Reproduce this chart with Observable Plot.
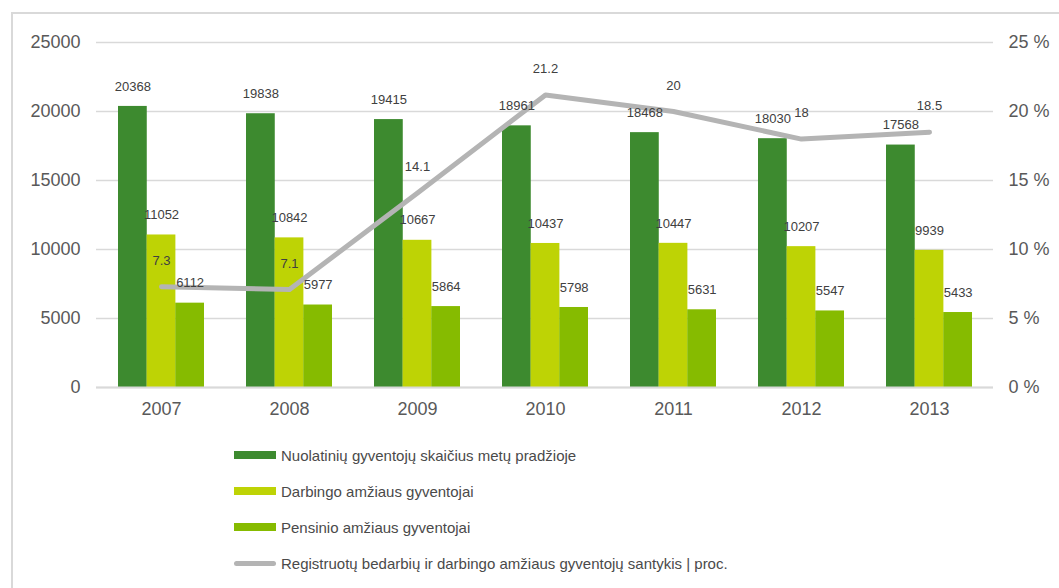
<!DOCTYPE html>
<html><head><meta charset="utf-8">
<script src="https://cdn.jsdelivr.net/npm/d3@7"></script>
<script src="https://cdn.jsdelivr.net/npm/@observablehq/plot@0.6"></script>
<style>
body{margin:0;background:#fff;font-family:"Liberation Sans",Arial,sans-serif;}
#wrap{position:relative;width:1059px;height:588px;overflow:hidden;background:#fff;}
#frame{position:absolute;left:11px;top:12px;width:1200px;height:700px;border-left:2px solid #d9d9d9;border-top:2px solid #d9d9d9;}
#chart{position:absolute;left:0;top:0;}
#legend{position:absolute;left:234px;top:437px;}
.row{display:flex;align-items:center;height:36px;font-size:15px;color:#4a4a4a;white-space:nowrap;}
.sw{width:42px;height:8px;margin-right:5px;flex:none;}
.ln{width:42px;height:5px;border-radius:3px;margin-right:5px;flex:none;}
</style></head><body>
<div id="wrap"><div id="frame"></div><div id="chart"></div><div id="legend"></div></div>
<script>
const years = ["2007","2008","2009","2010","2011","2012","2013"];
const totalPop = [20368,19838,19415,18961,18468,18030,17568];
const workingAge = [11052,10842,10667,10437,10447,10207,9939];
const pensionAge = [6112,5977,5864,5798,5631,5547,5433];
const unemployRatio = [7.3,7.1,14.1,21.2,20,18,18.5];
const leftTicks = [0,5000,10000,15000,20000,25000];
const rightTicks = [0,5,10,15,20,25];
const seriesNames = [
  "Nuolatinių gyventojų skaičius metų pradžioje",
  "Darbingo amžiaus gyventojai",
  "Pensinio amžiaus gyventojai",
  "Registruotų bedarbių ir darbingo amžiaus gyventojų santykis | proc."
];
const colors = ["#3d8a2f","#bed305","#86bb00","#b4b4b4"];

const rows = years.map((y,i)=>({year:y,total:totalPop[i],working:workingAge[i],pension:pensionAge[i],ratio:unemployRatio[i]}));

const W = 1059, ML = 96, MR = 66, PI = 0.33;
const step = (W-ML-MR)/years.length;
const third = step*(1-PI)/3;

const chart = Plot.plot({
  width: W, height: 425,
  marginLeft: ML, marginRight: MR, marginTop: 42, marginBottom: 38,
  style: {fontFamily: '"Liberation Sans", Arial, sans-serif', background: "transparent"},
  x: {type: "band", domain: years, paddingInner: PI, paddingOuter: PI/2, label: null},
  y: {domain: [0, 25000], label: null},
  marks: [
    Plot.gridY(leftTicks, {stroke: "#d9d9d9", strokeOpacity: 1, strokeWidth: 1.5}),
    Plot.barY(rows, {x: "year", y: "total", fill: colors[0], insetLeft: 0, insetRight: 2*third}),
    Plot.barY(rows, {x: "year", y: "working", fill: colors[1], insetLeft: third, insetRight: third}),
    Plot.barY(rows, {x: "year", y: "pension", fill: colors[2], insetLeft: 2*third, insetRight: 0}),
    Plot.ruleY([0], {stroke: "#d9d9d9", strokeWidth: 2}),
    Plot.line(rows, {x: "year", y: d => d.ratio*1000, stroke: colors[3], strokeWidth: 5, strokeLinecap: "round", strokeLinejoin: "round"}),
    Plot.text(rows, {x: "year", y: "total", text: d => String(d.total), dx: -third, dy: -20, fontSize: 13, fill: "#404040"}),
    Plot.text(rows, {x: "year", y: "working", text: d => String(d.working), dx: 0, dy: -20, fontSize: 13, fill: "#404040"}),
    Plot.text(rows, {x: "year", y: "pension", text: d => String(d.pension), dx: third, dy: -20, fontSize: 13, fill: "#404040"}),
    Plot.text(rows, {x: "year", y: d => d.ratio*1000, text: d => String(d.ratio), dy: -26, fontSize: 13, fill: "#404040"}),
    Plot.axisX({tickSize: 0, tickPadding: 15, fontSize: 18, color: "#595959", label: null}),
    Plot.axisY({anchor: "left", ticks: leftTicks, tickSize: 0, tickPadding: 16, fontSize: 18, color: "#595959", label: null, tickFormat: d => String(d)}),
    Plot.axisY({anchor: "right", ticks: rightTicks.map(v => v*1000), tickSize: 0, tickPadding: 15, fontSize: 18, color: "#595959", label: null, tickFormat: d => (d/1000) + " %"})
  ]
});
document.getElementById("chart").appendChild(chart);

const legend = document.getElementById("legend");
seriesNames.forEach((name,i)=>{
  const r = document.createElement("div");
  r.className = "row";
  const s = document.createElement("span");
  s.className = i < 3 ? "sw" : "ln";
  s.style.background = colors[i];
  const t = document.createElement("span");
  t.textContent = name;
  r.appendChild(s); r.appendChild(t);
  legend.appendChild(r);
});
</script>
</body></html>
